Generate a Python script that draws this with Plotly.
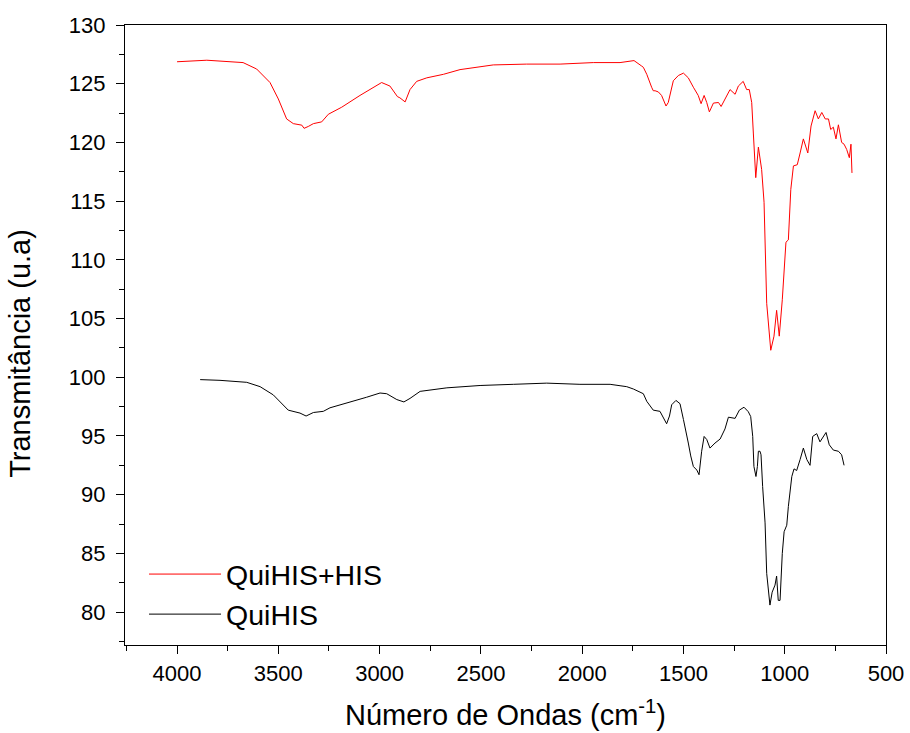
import plotly.graph_objects as go

# FTIR spectrum: QuiHIS+HIS (offset) and QuiHIS
wn_quihis_his = [4000, 3853, 3674, 3607, 3541, 3500, 3459, 3426, 3384, 3373, 3352, 3327, 3286, 3253,
                 3187, 3097, 2990, 2949, 2912, 2900, 2874, 2850, 2817, 2767, 2685, 2603, 2439, 2274,
                 2109, 1945, 1813, 1780, 1744, 1706, 1698, 1681, 1673, 1657, 1649, 1640, 1624, 1608,
                 1586, 1575, 1550, 1525, 1500, 1476, 1451, 1427, 1413, 1398, 1385, 1372, 1352, 1327,
                 1314, 1295, 1270, 1245, 1229, 1205, 1188, 1175, 1163, 1155, 1143, 1130, 1114, 1102,
                 1089, 1069, 1053, 1040, 1027, 1012, 994, 982, 970, 957, 938, 924, 908, 886, 870,
                 850, 834, 817, 800, 784, 773, 760, 747, 735, 719, 707, 694, 681, 673, 668]
t_quihis_his = [126.87, 127.0, 126.8, 126.25, 125.1, 123.7, 122.0, 121.6, 121.47, 121.2, 121.36, 121.6,
                121.75, 122.4, 123.0, 124.0, 125.1, 124.8, 123.9, 123.8, 123.45, 124.5, 125.2, 125.5,
                125.8, 126.2, 126.6, 126.67, 126.67, 126.8, 126.8, 126.87, 126.97, 126.5, 126.4,
                125.8, 125.4, 124.7, 124.4, 124.4, 124.3, 124.0, 123.1, 123.4, 125.25, 125.7, 125.9,
                125.5, 124.7, 124.0, 123.3, 124.0, 123.4, 122.6, 123.35, 123.4, 123.06, 123.7, 124.5,
                124.1, 124.8, 125.2, 124.5, 124.5, 123.4, 120.8, 117.0, 119.6, 117.7, 114.9, 106.3,
                102.3, 103.5, 105.7, 103.5, 106.6, 111.5, 111.7, 116.0, 118.0, 118.1, 119.1, 120.3,
                119.1, 121.4, 122.7, 122.0, 122.55, 122.0, 122.0, 121.1, 121.3, 120.3, 121.5, 120.0,
                119.85, 119.4, 118.7, 119.85, 117.4]

wn_quihis = [3886, 3788, 3656, 3590, 3525, 3451, 3393, 3363, 3327, 3278, 3245, 3130, 3064, 2998,
             2965, 2915, 2880, 2850, 2800, 2668, 2504, 2340, 2175, 2011, 1862, 1813, 1780, 1747,
             1714, 1698, 1681, 1665, 1649, 1616, 1599, 1583, 1569, 1558, 1537, 1517, 1500, 1487,
             1476, 1464, 1451, 1434, 1423, 1410, 1398, 1385, 1369, 1344, 1319, 1295, 1278, 1245,
             1224, 1201, 1180, 1168, 1158, 1152, 1142, 1135, 1130, 1122, 1117, 1109, 1097, 1089,
             1081, 1073, 1062, 1048, 1040, 1032, 1023, 1012, 1003, 990, 982, 965, 954, 941, 924,
             908, 891, 875, 862, 842, 826, 809, 796, 780, 760, 735, 719, 707]
t_quihis = [99.8, 99.74, 99.57, 99.2, 98.5, 97.2, 96.95, 96.7, 97.0, 97.1, 97.4, 97.95, 98.3, 98.66,
            98.6, 98.1, 97.9, 98.2, 98.8, 99.1, 99.3, 99.4, 99.5, 99.4, 99.4, 99.28, 99.2, 99.0,
            98.7, 98.6, 97.95, 97.6, 97.2, 97.1, 96.5, 96.04, 96.7, 97.66, 98.03, 97.75, 96.4,
            95.4, 94.4, 93.3, 92.4, 92.1, 91.7, 93.7, 94.96, 94.7, 93.97, 94.4, 94.74, 95.6, 96.6,
            96.5, 97.2, 97.45, 97.07, 96.66, 94.96, 92.4, 91.55, 92.4, 93.7, 93.7, 93.4, 90.7, 87.6,
            83.3, 81.6, 80.6, 81.7, 82.3, 83.07, 81.0, 81.0, 85.0, 86.85, 87.4, 89.0, 91.55, 92.2,
            92.06, 93.0, 93.97, 93.0, 92.5, 94.96, 95.2, 94.5, 94.96, 95.3, 94.25, 93.8, 93.7,
            93.4, 92.5]

x_ticks = [4000, 3500, 3000, 2500, 2000, 1500, 1000, 500]
y_ticks = [80, 85, 90, 95, 100, 105, 110, 115, 120, 125, 130]

FONT = "Liberation Sans, Arial, sans-serif"

fig = go.Figure()
fig.add_trace(go.Scatter(x=wn_quihis_his, y=t_quihis_his, mode="lines", name="QuiHIS+HIS",
                         line=dict(color="#ff0000", width=1)))
fig.add_trace(go.Scatter(x=wn_quihis, y=t_quihis, mode="lines", name="QuiHIS",
                         line=dict(color="#000000", width=1)))

axis_common = dict(
    showline=True, linecolor="black", linewidth=1.3, mirror=True,
    ticks="outside", ticklen=8, tickwidth=1.3, tickcolor="black",
    showgrid=False, zeroline=False, automargin=False,
    tickfont=dict(family=FONT, size=22, color="black"),
)

fig.update_xaxes(
    **axis_common,
    range=[4257, 500], tickvals=x_ticks, ticktext=[str(v) for v in x_ticks],
    minor=dict(ticks="outside", ticklen=5, tickwidth=1.3, tickcolor="black", dtick=250, tick0=500),
    title=dict(text="Número de Ondas (cm<sup>-1</sup>)", font=dict(family=FONT, size=29, color="black"),
               standoff=20),
)
fig.update_yaxes(
    **axis_common,
    range=[77.2, 130], tickvals=y_ticks, ticktext=[str(v) for v in y_ticks],
    ticklabelstandoff=6,
    minor=dict(ticks="outside", ticklen=5, tickwidth=1.3, tickcolor="black", dtick=2.5, tick0=80),
)

fig.update_layout(
    width=910, height=733,
    margin=dict(l=125, r=24, t=25, b=88),
    paper_bgcolor="white", plot_bgcolor="white",
    font=dict(family=FONT, color="black"),
    legend=dict(x=0.025, y=0.008, xanchor="left", yanchor="bottom",
                bgcolor="rgba(0,0,0,0)", itemwidth=72,
                font=dict(family=FONT, size=28.5, color="black"), tracegroupgap=0),
    annotations=[dict(
        text="Transmitância (u.a)", textangle=-90, showarrow=False,
        xref="paper", yref="paper", x=-0.139, y=0.470, xanchor="center", yanchor="middle",
        font=dict(family=FONT, size=29, color="black"),
    )],
)

fig.write_html("out.html")
